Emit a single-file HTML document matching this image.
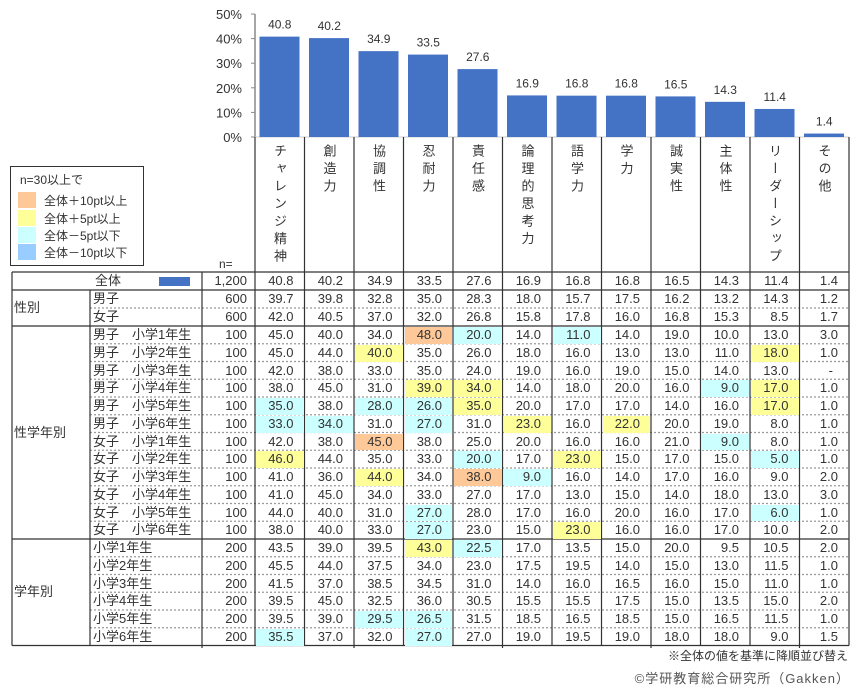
<!DOCTYPE html>
<html><head><meta charset="utf-8">
<style>
body{margin:0;background:#fff;}
#root{position:relative;width:858px;height:689px;overflow:hidden;font-family:"Liberation Sans","Noto Sans CJK JP",sans-serif;color:#333;font-size:13px;}
.a{position:absolute;white-space:nowrap;}
.cell{position:absolute;text-align:right;box-sizing:border-box;padding-right:11px;line-height:17px;}
.hl{position:absolute;}
.vt{position:absolute;writing-mode:vertical-rl;text-orientation:upright;font-size:13px;letter-spacing:4.5px;line-height:13px;}
</style></head>
<body>
<div id="root">
<svg id="chart" class="a" style="left:0;top:0" width="858" height="689"></svg>
<div class="a" style="left:10px;top:166px;width:132px;height:98px;border:1px solid #333;">
 <div class="a" style="left:9px;top:4px;font-size:12px">n=30以上で</div>
 <div class="a" style="left:7px;top:25px;width:18px;height:16px;background:#FFC898"></div>
 <div class="a" style="left:33px;top:25px;font-size:12px">全体＋10pt以上</div>
 <div class="a" style="left:7px;top:43px;width:18px;height:16px;background:#FFFF99"></div>
 <div class="a" style="left:33px;top:43px;font-size:12px">全体＋5pt以上</div>
 <div class="a" style="left:7px;top:60px;width:18px;height:16px;background:#CCFFFF"></div>
 <div class="a" style="left:33px;top:60px;font-size:12px">全体－5pt以下</div>
 <div class="a" style="left:7px;top:77px;width:18px;height:16px;background:#99CCFF"></div>
 <div class="a" style="left:33px;top:77px;font-size:12px">全体－10pt以下</div>
</div>
<div class="a" style="left:219px;top:257px;font-size:12px">n=</div>
<div class="a" style="right:10px;top:647px;font-size:12px">※全体の値を基準に降順並び替え</div>
<div class="a" style="right:8px;top:668px;font-size:13px;color:#555;letter-spacing:1px">©学研教育総合研究所（Gakken）</div>
</div>
<script>
const categories=["チャレンジ精神","創造力","協調性","忍耐力","責任感","論理的思考力","語学力","学力","誠実性","主体性","リーダーシップ","その他"];
const totalValues=[40.8,40.2,34.9,33.5,27.6,16.9,16.8,16.8,16.5,14.3,11.4,1.4];
const yTicks=[0,10,20,30,40,50];
const rowLabels=["全体","男子","女子","男子　小学1年生","男子　小学2年生","男子　小学3年生","男子　小学4年生","男子　小学5年生","男子　小学6年生","女子　小学1年生","女子　小学2年生","女子　小学3年生","女子　小学4年生","女子　小学5年生","女子　小学6年生","小学1年生","小学2年生","小学3年生","小学4年生","小学5年生","小学6年生"];
const rowN=["1,200","600","600","100","100","100","100","100","100","100","100","100","100","100","100","200","200","200","200","200","200"];
const rowValues=[
"40.8 40.2 34.9 33.5 27.6 16.9 16.8 16.8 16.5 14.3 11.4 1.4",
"39.7 39.8 32.8 35.0 28.3 18.0 15.7 17.5 16.2 13.2 14.3 1.2",
"42.0 40.5 37.0 32.0 26.8 15.8 17.8 16.0 16.8 15.3 8.5 1.7",
"45.0 40.0 34.0 48.0 20.0 14.0 11.0 14.0 19.0 10.0 13.0 3.0",
"45.0 44.0 40.0 35.0 26.0 18.0 16.0 13.0 13.0 11.0 18.0 1.0",
"42.0 38.0 33.0 35.0 24.0 19.0 16.0 19.0 15.0 14.0 13.0 -",
"38.0 45.0 31.0 39.0 34.0 14.0 18.0 20.0 16.0 9.0 17.0 1.0",
"35.0 38.0 28.0 26.0 35.0 20.0 17.0 17.0 14.0 16.0 17.0 1.0",
"33.0 34.0 31.0 27.0 31.0 23.0 16.0 22.0 20.0 19.0 8.0 1.0",
"42.0 38.0 45.0 38.0 25.0 20.0 16.0 16.0 21.0 9.0 8.0 1.0",
"46.0 44.0 35.0 33.0 20.0 17.0 23.0 15.0 17.0 15.0 5.0 1.0",
"41.0 36.0 44.0 34.0 38.0 9.0 16.0 14.0 17.0 16.0 9.0 2.0",
"41.0 45.0 34.0 33.0 27.0 17.0 13.0 15.0 14.0 18.0 13.0 3.0",
"44.0 40.0 31.0 27.0 28.0 17.0 16.0 20.0 16.0 17.0 6.0 1.0",
"38.0 40.0 33.0 27.0 23.0 15.0 23.0 16.0 16.0 17.0 10.0 2.0",
"43.5 39.0 39.5 43.0 22.5 17.0 13.5 15.0 20.0 9.5 10.5 2.0",
"45.5 44.0 37.5 34.0 23.0 17.5 19.5 14.0 15.0 13.0 11.5 1.0",
"41.5 37.0 38.5 34.5 31.0 14.0 16.0 16.5 16.0 15.0 11.0 1.0",
"39.5 45.0 32.5 36.0 30.5 15.5 15.5 17.5 15.0 13.5 15.0 2.0",
"39.5 39.0 29.5 26.5 31.5 18.5 16.5 18.5 15.0 16.5 11.5 1.0",
"35.5 37.0 32.0 27.0 27.0 19.0 19.5 19.0 18.0 18.0 9.0 1.5"];
const rowHighlights=[
"............","............","............",
"...oc.c.....","..y.......y.","............","...yy....cy.","c.ccy.....y.","cc.c.y.y....",
"..o......c..","y...c.y...c.","..y.oc......","............","...c......c.","...c..y.....",
"...yc.......","............","............","............","..cc........","c..c........"];
const HL={o:"#FFC898",y:"#FFFF99",c:"#CCFFFF",b:"#99CCFF"};

const root=document.getElementById('root');
const svg=document.getElementById('chart');
const NS="http://www.w3.org/2000/svg";
const X0=255,CW=49.5,Y0=137,PX=2.46;
const xCol=i=>X0+i*CW;
const yVal=v=>Y0-v*PX;
function sv(tag,attrs){const e=document.createElementNS(NS,tag);for(const k in attrs)e.setAttribute(k,attrs[k]);svg.appendChild(e);return e;}
// axis
let ax=sv('line',{x1:X0,y1:yVal(50),x2:X0,y2:Y0,stroke:'#888','stroke-width':1.5});


yTicks.forEach(t=>{
 const tk=sv('line',{x1:X0-4,y1:yVal(t),x2:X0,y2:yVal(t),stroke:'#888'});
 
 
 const tx=sv('text',{x:X0-13,y:yVal(t)+5,'text-anchor':'end','font-size':13,fill:'#333'});
 tx.textContent=t+'%';
 
 
});
let bl=sv('line',{x1:X0,y1:Y0,x2:xCol(12),y2:Y0,stroke:'#ccc'});


totalValues.forEach((v,i)=>{
 const r=sv('rect',{x:xCol(i)+4.5,y:yVal(v),width:40,height:v*PX,fill:'#4472C4'});
 
 
 const t=sv('text',{x:xCol(i)+CW/2,y:yVal(v)-8,'text-anchor':'middle','font-size':12,fill:'#333'});
 t.textContent=v.toFixed(1);
 
 
});
// header
categories.forEach((c,i)=>{
 const d=document.createElement('div');
 d.className='vt';d.style.left=(xCol(i)+18)+'px';d.style.top='144px';d.textContent=c;
 
 
 root.appendChild(d);
});
function line(x1,y1,x2,y2,color,dash,name){
 const l=sv('line',{x1,y1,x2,y2,stroke:color,'stroke-width':1.2});
 if(dash)l.setAttribute('stroke-dasharray','2,2');
 
 
}
// row y positions
const rowTop=[272,290,308];
for(let i=3;i<=rowLabels.length;i++)rowTop.push(326+(i-3)*17.75);
const RIGHT=xCol(12);
for(let r=0;r<rowLabels.length;r++){
 const y=rowTop[r],h=rowTop[r+1]-y;
 const vals=rowValues[r].split(' ');
 vals.forEach((v,i)=>{
  const hc=rowHighlights[r][i];
  if(hc!=='.'){
   const b=document.createElement('div');b.className='hl';
   b.style.cssText=`left:${xCol(i)+1}px;top:${y+1}px;width:${CW-2}px;height:${h-1}px;background:${HL[hc]}`;
   
   
   root.appendChild(b);
  }
  const c=document.createElement('div');c.className='cell';
  c.style.cssText=`left:${xCol(i)}px;top:${y}px;width:${CW}px;height:${h}px;line-height:${h}px;`+(v==='-'?'padding-right:16px;':'');
  c.textContent=v;
  
  
  root.appendChild(c);
 });
 const n=document.createElement('div');n.className='cell';
 n.style.cssText=`left:202px;top:${y}px;width:53px;height:${h}px;line-height:${h}px;padding-right:8px`;
 n.textContent=rowN[r];
 
 
 root.appendChild(n);
 const lb=document.createElement('div');lb.className='a';
 lb.style.cssText=r===0?`left:95px;top:${y};line-height:${h}px;top:${y}px`:`left:93px;top:${y}px;line-height:${h}px`;
 lb.textContent=rowLabels[r];
 
 
 root.appendChild(lb);
}
// total swatch
const sw=document.createElement('div');sw.className='a';
sw.style.cssText='left:159px;top:277px;width:31px;height:9px;background:#4472C4';


root.appendChild(sw);
// group labels
[["性別",290,326],["性学年別",326,539],["学年別",539,645.5]].forEach(g=>{
 const d=document.createElement('div');d.className='a';
 d.style.cssText=`left:14px;top:${(g[1]+g[2])/2-9}px;line-height:18px`;
 d.textContent=g[0];
 
 
 root.appendChild(d);
});
// grid lines
const solidRows=[272,290,326,539,645.5];
for(let r=0;r<=rowLabels.length;r++){
 const y=rowTop[r]||645.5;
 if(solidRows.includes(y))line(12,y,RIGHT,y,'#333',false,'row-border');
 else line(90,y,RIGHT,y,'#999',true,'row-divider');
}
line(12,272,12,645.5,'#333',false,'table-left');
line(90,290,90,645.5,'#333',false,'label-divider');
line(202,272,202,648,'#333',false,'n-divider');
for(let i=0;i<=12;i++)line(xCol(i),137,xCol(i),i%3===2?648:645.5,'#333',false,'column-divider');
</script>
</body></html>
